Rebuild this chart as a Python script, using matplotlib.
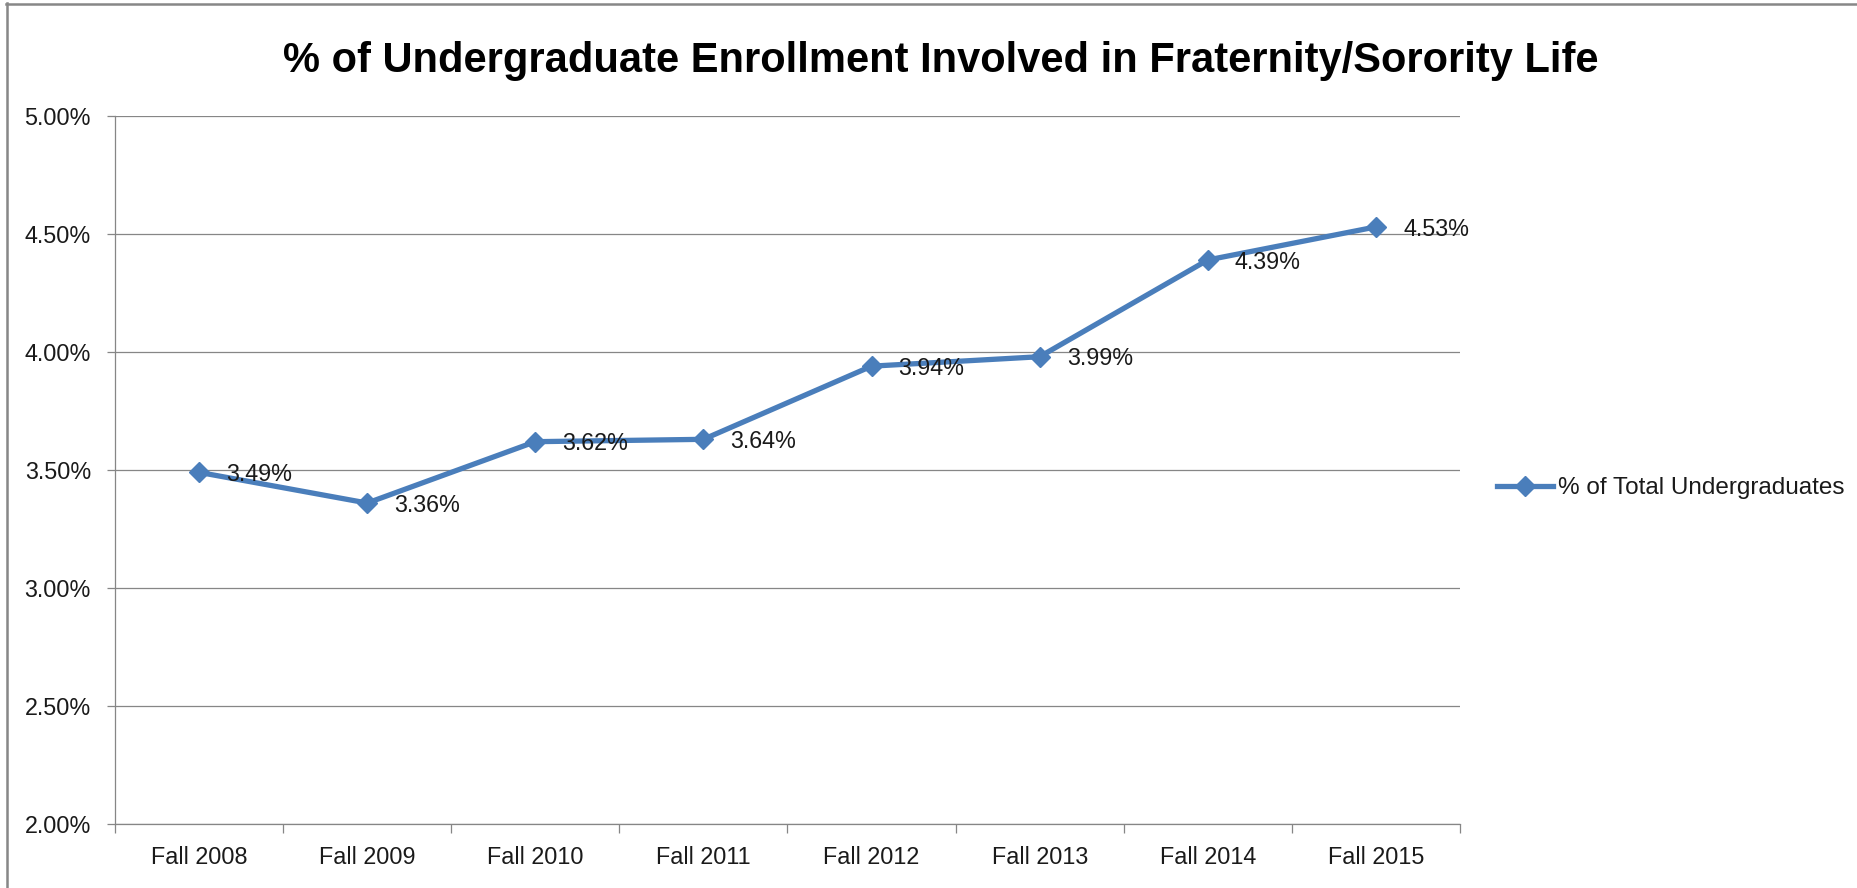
import matplotlib
matplotlib.use('Agg')
import matplotlib.pyplot as plt
from matplotlib.lines import Line2D
from matplotlib.ticker import FixedLocator, FuncFormatter

plt.rcParams['font.family'] = ['Liberation Sans', 'DejaVu Sans']

# data
semesters = ['Fall 2008', 'Fall 2009', 'Fall 2010', 'Fall 2011',
             'Fall 2012', 'Fall 2013', 'Fall 2014', 'Fall 2015']
pct_total_ug = [3.49, 3.36, 3.62, 3.63, 3.94, 3.98, 4.39, 4.53]
pct_labels = ['3.49%', '3.36%', '3.62%', '3.64%', '3.94%', '3.99%', '4.39%', '4.53%']
y_ticks = [2.0, 2.5, 3.0, 3.5, 4.0, 4.5, 5.0]

title = '% of Undergraduate Enrollment Involved in Fraternity/Sorority Life'
series_name = '% of Total Undergraduates'

blue = '#4a7ebb'
gray = '#868686'
W, H = 1857, 888

fig = plt.figure(figsize=(W / 100, H / 100), dpi=100)
ax = fig.add_axes([115 / W, 1 - 824 / H, 1345 / W, 708 / H])

x = list(range(len(semesters)))
ax.plot(x, pct_total_ug, color=blue, lw=3.8, marker='D', ms=10.5,
        mfc=blue, mec=blue, label=series_name, zorder=3, clip_on=False)

for xi, yi, lab in zip(x, pct_total_ug, pct_labels):
    ax.annotate(lab, (xi, yi), xytext=(19.5, -1.5), textcoords='offset points',
                ha='left', va='center', fontsize=16.8, color='#1a1a1a', zorder=4)

ax.set_xlim(-0.5, len(semesters) - 0.5)
ax.set_ylim(2.0, 5.0)

ax.set_yticks(y_ticks)
ax.yaxis.set_major_formatter(FuncFormatter(lambda v, p: f'{v:.2f}%'))
ax.yaxis.grid(True, color=gray, lw=0.9)
ax.set_axisbelow(True)

ax.set_xticks(x)
ax.set_xticklabels(semesters)
ax.xaxis.set_minor_locator(FixedLocator([i - 0.5 for i in range(len(semesters) + 1)]))

ax.tick_params(axis='x', which='major', length=0, pad=15.5, labelsize=16.8, labelcolor='#1a1a1a')
ax.tick_params(axis='x', which='minor', length=6.5, width=0.9, color=gray, direction='out')
ax.tick_params(axis='y', which='major', length=5.8, width=0.9, color=gray, pad=11.5,
               labelsize=16.8, labelcolor='#1a1a1a')

for side in ['top', 'right']:
    ax.spines[side].set_visible(False)
for side in ['left', 'bottom']:
    ax.spines[side].set_color(gray)
    ax.spines[side].set_linewidth(0.9)

fig.text(941 / W, 1 - 72 / H, title, ha='center', va='baseline',
         fontsize=30, fontweight='bold', color='black')

fig.legend(loc='center left', bbox_to_anchor=(1497 / W, 1 - 488 / H), frameon=False,
           fontsize=17.5, handlelength=2.3, handletextpad=0.2, borderpad=0,
           borderaxespad=0, labelcolor='#1a1a1a')

# outer frame of the chart image (top and left edges)
fig.add_artist(Line2D([6 / W, 1], [1 - 4 / H, 1 - 4 / H], transform=fig.transFigure,
                      color='#878787', lw=1.8))
fig.add_artist(Line2D([7 / W, 7 / W], [0, 1 - 3 / H], transform=fig.transFigure,
                      color='#878787', lw=1.8))

fig.savefig('out.png', dpi=100, facecolor='white')
